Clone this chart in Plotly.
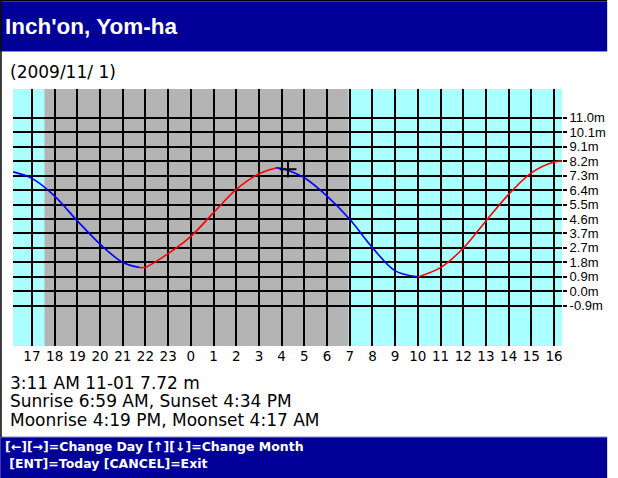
import plotly.graph_objects as go

# Tide curve, hours relative to 0:00 on 2009/11/01 (negative = previous evening)
hours = [-7.83, -7, -6, -5, -4, -3, -2.25, -2, -1, 0, 1, 2, 3, 3.75, 4, 5, 6, 7,
         8, 9, 10, 11, 12, 13, 14, 15, 16, 16.35]
heights = [7.55, 7.14, 6.02, 4.45, 2.98, 1.82, 1.50, 1.52, 2.38, 3.47, 4.97, 6.44,
           7.43, 7.80, 7.77, 7.18, 6.02, 4.55, 2.76, 1.29, 0.91, 1.50, 2.72, 4.45,
           6.13, 7.49, 8.18, 8.23]

# Hour grid and labels
hour_ticks = list(range(-7, 17))
hour_labels = ['17', '18', '19', '20', '21', '22', '23', '0', '1', '2', '3', '4',
               '5', '6', '7', '8', '9', '10', '11', '12', '13', '14', '15', '16']

# Height grid (3 ft steps) and labels
height_ticks = [-0.914, 0.0, 0.914, 1.829, 2.743, 3.658, 4.572, 5.486, 6.401,
                7.315, 8.230, 9.144, 10.058, 10.973]
height_labels = ['-0.9m', '0.0m', '0.9m', '1.8m', '2.7m', '3.7m', '4.6m', '5.5m',
                 '6.4m', '7.3m', '8.2m', '9.1m', '10.1m', '11.0m']

night_start, night_end = -6.45, 6.94
cursor_hour, cursor_height = 4.28, 7.72

station = "Inch'on, Yom-ha"
date_text = "(2009/11/ 1)"
info_lines = ["3:11 AM 11-01 7.72 m",
              "Sunrise 6:59 AM, Sunset 4:34 PM",
              "Moonrise 4:19 PM, Moonset 4:17 AM"]
help_lines = ["[\u2190][\u2192]=Change Day [\u2191][\u2193]=Change Month",
              " [ENT]=Today [CANCEL]=Exit"]

W, H = 618, 478
L, R, T, B = 13, 572, 89, 346
BLUE = '#000099'
CYAN = '#aaffff'
GRAY = '#b4b4b4'


def px(x):
    return (x - L) / (R - L)


def py(y):
    return (B - y) / (B - T)


fig = go.Figure()

# Split the curve into rising (red) and falling (blue) runs
segments = []
start = 0
for i in range(1, len(hours)):
    rising = heights[i] >= heights[i - 1]
    if i < len(hours) - 1 and (heights[i + 1] >= heights[i]) == rising:
        continue
    segments.append((start, i, rising))
    start = i

for s, e, rising in segments:
    fig.add_trace(go.Scatter(
        x=hours[s:e + 1], y=heights[s:e + 1], mode='lines',
        line=dict(color='#ff0000' if rising else '#0000ff', width=1.6,
                  shape='spline', smoothing=0.9),
        hoverinfo='skip', showlegend=False
    ))

# Cursor
fig.add_trace(go.Scatter(
    x=[cursor_hour], y=[cursor_height], mode='markers',
    marker=dict(symbol='cross-thin', size=12, line=dict(color='black', width=2)),
    hoverinfo='skip', showlegend=False
))

shapes = [
    # night shading
    dict(type='rect', xref='x', yref='paper', x0=night_start, x1=night_end,
         y0=0, y1=1, fillcolor=GRAY, line_width=0, layer='below'),
    # title bar
    dict(type='rect', xref='paper', yref='paper', x0=px(0), x1=px(W),
         y0=py(51), y1=py(1.5), fillcolor=BLUE, line_width=0),
    dict(type='line', xref='paper', yref='paper', x0=px(0), x1=px(W),
         y0=py(51.5), y1=py(51.5), line=dict(color='#8888cc', width=1)),
    # footer bar
    dict(type='rect', xref='paper', yref='paper', x0=px(0), x1=px(W),
         y0=py(H), y1=py(437), fillcolor=BLUE, line_width=0),
    dict(type='line', xref='paper', yref='paper', x0=px(0), x1=px(W),
         y0=py(437), y1=py(437), line=dict(color='#8888cc', width=1)),
    # outer border
    dict(type='line', xref='paper', yref='paper', x0=px(0), x1=px(W),
         y0=py(0.75), y1=py(0.75), line=dict(color='black', width=1.5)),
    dict(type='line', xref='paper', yref='paper', x0=px(0.75), x1=px(0.75),
         y0=py(0), y1=py(437), line=dict(color='black', width=1.5)),
]

txt_font = dict(family='DejaVu Sans', size=17, color='black')
annotations = [
    dict(text='<b>' + station + '</b>', x=px(3), y=py(27),
         font=dict(family='Liberation Sans', size=22.5, color='white')),
    dict(text=date_text, x=px(8), y=py(72), font=txt_font),
]
for yy, line in zip([383, 401, 420], info_lines):
    annotations.append(dict(text=line, x=px(8), y=py(yy), font=txt_font))
for yy, line in zip([446, 463], help_lines):
    annotations.append(dict(text='<b>' + line + '</b>', x=px(3), y=py(yy),
                            font=dict(family='DejaVu Sans', size=12.5, color='white')))
for a in annotations:
    a.update(xref='paper', yref='paper', xanchor='left', yanchor='middle',
             showarrow=False)

fig.update_layout(
    width=W, height=H, autosize=False,
    margin=dict(l=L, r=W - R, t=T, b=H - B, pad=0),
    paper_bgcolor='white', plot_bgcolor=CYAN,
    shapes=shapes, annotations=annotations,
    xaxis=dict(range=[-7.835, 16.35], tickvals=hour_ticks, ticktext=hour_labels,
               showgrid=True, gridcolor='black', gridwidth=2, zeroline=False,
               showline=False, ticks='', fixedrange=True,
               tickfont=dict(family='DejaVu Sans', size=13.5, color='black')),
    yaxis=dict(range=[-3.46, 12.79], tickvals=height_ticks, ticktext=height_labels,
               side='right', showgrid=True, gridcolor='black', gridwidth=2,
               zeroline=False, showline=False, ticks='outside', ticklen=4,
               tickwidth=2, tickcolor='black', fixedrange=True,
               tickfont=dict(family='Liberation Sans', size=13, color='black')),
)

# page without body margin / scrollbars so the figure sits at 0,0 at full size
fit_js = """
document.documentElement.style.overflow = 'hidden';
document.body.style.margin = '0';
document.body.style.overflow = 'hidden';
"""

fig.write_html("out.html", config={'displayModeBar': False}, post_script=fit_js)
